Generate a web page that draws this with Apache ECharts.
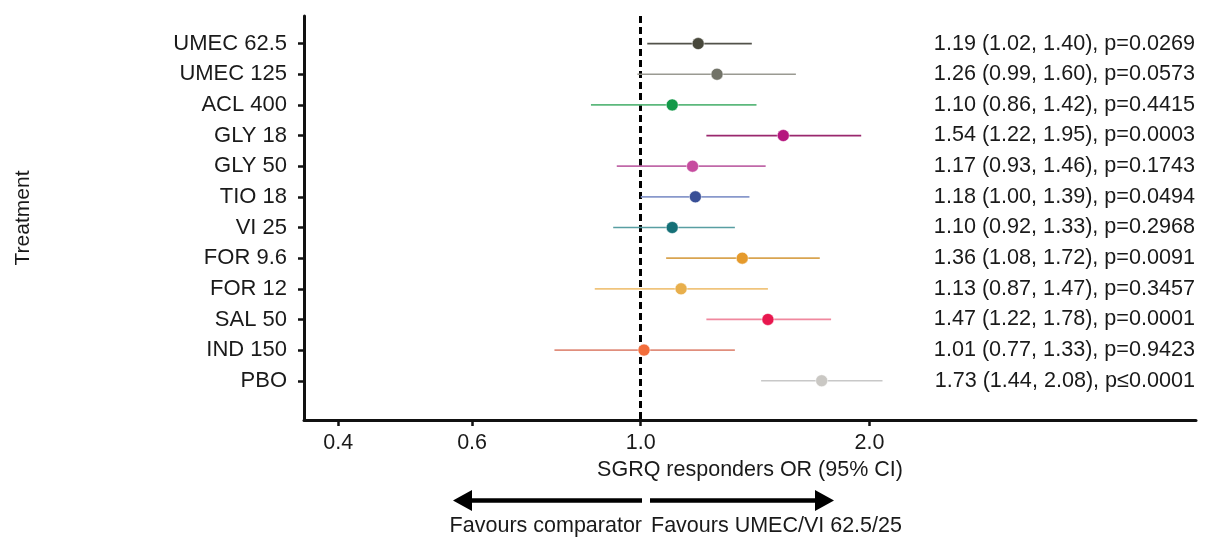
<!DOCTYPE html>
<html>
<head>
<meta charset="utf-8">
<script src="https://cdn.jsdelivr.net/npm/echarts@6/dist/echarts.min.js"></script>
<style>
  html, body { margin: 0; padding: 0; background: #fff; }
  #chart { width: 1209px; height: 538px; }
</style>
</head>
<body>
<div id="chart"></div>
<script>
const treatments = [
    "UMEC 62.5", "UMEC 125", "ACL 400", "GLY 18", "GLY 50", "TIO 18",
    "VI 25", "FOR 9.6", "FOR 12", "SAL 50", "IND 150", "PBO",
];
const oddsRatio = [1.19, 1.26, 1.10, 1.54, 1.17, 1.18, 1.10, 1.36, 1.13, 1.47, 1.01, 1.73];
const ciLow = [1.02, 0.99, 0.86, 1.22, 0.93, 1.00, 0.92, 1.08, 0.87, 1.22, 0.77, 1.44];
const ciHigh = [1.40, 1.60, 1.42, 1.95, 1.46, 1.39, 1.33, 1.72, 1.47, 1.78, 1.33, 2.08];
const pText = [
    "p=0.0269", "p=0.0573", "p=0.4415", "p=0.0003", "p=0.1743", "p=0.0494",
    "p=0.2968", "p=0.0091", "p=0.3457", "p=0.0001", "p=0.9423", "p\u22640.0001",
];
const xTicks = [0.4, 0.6, 1.0, 2.0];

const dotColors = [
    "#48483b", "#727368", "#129948", "#b5167e", "#c64c9f", "#384f96",
    "#157077", "#e59a2c", "#e8af4c", "#e8174e", "#f36e3c", "#cac8c4",
];
const lineColors = [
    "#52524a", "#9a9a92", "#5cb87c", "#9a286e", "#c068a8", "#8898cb",
    "#589ea2", "#d9a450", "#f0c47c", "#f0889e", "#e08e7c", "#c8c8c8",
];

const font = "Liberation Sans, Arial, sans-serif";
const textColor = "#1a1a1a";
const xMin = -1.02;
const xMax = 1.682;

document.addEventListener("DOMContentLoaded", () => {
    const chart = echarts.init(document.querySelector("#chart"));
    const rows = treatments.map((t, i) => i);
    chart.setOption({
        animation: false,
        textStyle: { fontFamily: font },
        grid: { left: 304, right: 13, top: 16, bottom: 118 },
        xAxis: {
            type: "value",
            min: xMin,
            max: xMax,
            name: "SGRQ responders OR (95% CI)",
            nameLocation: "middle",
            nameGap: 38,
            nameTextStyle: { fontSize: 21.5, color: textColor, fontFamily: font },
            axisLine: { onZero: false, lineStyle: { color: "#111", width: 3 } },
            axisTick: {
                customValues: xTicks.map(Math.log),
                length: 6,
                lineStyle: { color: "#111", width: 2.5 },
            },
            axisLabel: {
                customValues: xTicks.map(Math.log),
                formatter: (v) => Math.exp(v).toFixed(1),
                fontSize: 21.5,
                color: textColor,
                margin: 12,
            },
            splitLine: { show: false },
        },
        yAxis: {
            type: "value",
            inverse: true,
            min: -0.9,
            max: 12.28,
            name: "Treatment",
            nameLocation: "middle",
            nameRotate: 90,
            nameGap: 270,
            nameTextStyle: { fontSize: 21, color: textColor, fontFamily: font },
            axisLine: { show: true, onZero: false, lineStyle: { color: "#111", width: 3 } },
            axisTick: {
                customValues: rows,
                length: 6,
                lineStyle: { color: "#111", width: 2.5 },
            },
            axisLabel: {
                customValues: rows,
                formatter: (v) => treatments[Math.round(v)],
                fontSize: 22,
                color: textColor,
                margin: 17,
            },
            splitLine: { show: false },
        },
        series: [
            {
                type: "custom",
                silent: true,
                data: rows.map((i) => [Math.log(ciLow[i]), Math.log(ciHigh[i]), i]),
                encode: { x: [0, 1], y: 2 },
                renderItem: (params, api) => {
                    const a = api.coord([api.value(0), api.value(2)]);
                    const b = api.coord([api.value(1), api.value(2)]);
                    return {
                        type: "line",
                        shape: { x1: a[0], y1: a[1], x2: b[0], y2: b[1] },
                        style: { stroke: lineColors[params.dataIndex], lineWidth: 1.7 },
                    };
                },
                z: 2,
            },
            {
                type: "scatter",
                silent: true,
                symbolSize: 12,
                data: rows.map((i) => ({
                    value: [Math.log(oddsRatio[i]), i],
                    itemStyle: { color: dotColors[i], opacity: 1, borderColor: "#fff", borderWidth: 0.5 },
                })),
                markLine: {
                    silent: true,
                    symbol: "none",
                    label: { show: false },
                    lineStyle: { color: "#000", width: 3, type: [7, 4] },
                    data: [{ xAxis: 0 }],
                    z: 1,
                },
                z: 4,
            },
            {
                type: "scatter",
                silent: true,
                clip: false,
                symbolSize: 0,
                itemStyle: { opacity: 1 },
                data: rows.map((i) => [xMax, i]),
                label: {
                    show: true,
                    position: "left",
                    distance: 1,
                    fontSize: 21.6,
                    color: textColor,
                    opacity: 1,
                    fontFamily: font,
                    formatter: (p) => {
                        const i = p.dataIndex;
                        return oddsRatio[i].toFixed(2) + " (" + ciLow[i].toFixed(2) + ", " +
                            ciHigh[i].toFixed(2) + "), " + pText[i];
                    },
                },
            },
        ],
        graphic: [
            { type: "line", shape: { x1: 471, y1: 500.5, x2: 642, y2: 500.5 }, style: { stroke: "#000", lineWidth: 4.5 } },
            { type: "polygon", shape: { points: [[453, 500.5], [472, 490], [472, 511]] }, style: { fill: "#000" } },
            { type: "line", shape: { x1: 650, y1: 500.5, x2: 816, y2: 500.5 }, style: { stroke: "#000", lineWidth: 4.5 } },
            { type: "polygon", shape: { points: [[834, 500.5], [815, 490], [815, 511]] }, style: { fill: "#000" } },
            {
                type: "text", x: 642, y: 526,
                style: { text: "Favours comparator", fontSize: 21.5, fill: textColor, fontFamily: font, align: "right", verticalAlign: "middle" },
            },
            {
                type: "text", x: 651, y: 526,
                style: { text: "Favours UMEC/VI 62.5/25", fontSize: 21.5, fill: textColor, fontFamily: font, align: "left", verticalAlign: "middle" },
            },
        ],
    });
});
</script>
</body>
</html>
